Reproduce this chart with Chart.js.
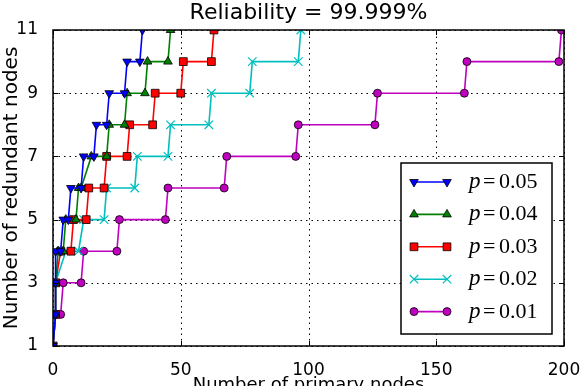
<!DOCTYPE html>
<html>
<head>
<meta charset="utf-8">
<script src="https://cdn.jsdelivr.net/npm/chart.js@4/dist/chart.umd.min.js"></script>
<style>
  html, body { margin: 0; padding: 0; background: #fff; overflow: hidden; }
  #wrap { position: relative; width: 581px; height: 410px; }
</style>
</head>
<body>
<div id="wrap"><canvas id="chart"></canvas></div>
<script>
// [primary nodes, redundant nodes] at each step start/end
const p05 = [[0,1],[1,2],[1,3],[1,4],[3,4],[4,5],[6,5],[7,6],[11,6],[12,7],[16,7],[17,8],[21,8],[22,9],[28,9],[29,10],[34,10],[35,11]];
const p04 = [[0,1],[1,2],[1,3],[2,4],[4,4],[5,5],[9,5],[10,6],[11,6],[15,7],[21,7],[22,8],[28,8],[29,9],[36,9],[37,10],[45,10],[46,11]];
const p03 = [[0,1],[1,2],[1,3],[3,4],[7,4],[8,5],[13,5],[14,6],[20,6],[21,7],[29,7],[30,8],[39,8],[40,9],[50,9],[51,10],[62,10],[63,11]];
const p02 = [[0,1],[1,2],[1,3],[5,4],[10,4],[12,5],[20,5],[21,6],[32,6],[33,7],[45,7],[46,8],[61,8],[62,9],[77,9],[78,10],[96,10],[97,11]];
const p01 = [[0,1],[1,2],[3,2],[4,3],[11,3],[12,4],[25,4],[26,5],[44,5],[45,6],[67,6],[68,7],[95,7],[96,8],[126,8],[127,9],[161,9],[162,10],[198,10],[199,11]];

const seriesLabels = ['0.05', '0.04', '0.03', '0.02', '0.01'];
const xTicks = [0, 50, 100, 150, 200];
const yTicks = [1, 3, 5, 7, 9, 11];
const chartTitle = 'Reliability = 99.999%';

const toPts = arr => arr.map(([x, y]) => ({ x, y }));

function makeSet(label, data, color, style, extra) {
  return Object.assign({
    label: label,
    data: toPts(data),
    showLine: true,
    borderColor: color,
    backgroundColor: color,
    borderWidth: 1.6,
    pointStyle: style,
    pointRadius: 4.5,
    pointBackgroundColor: color,
    pointBorderColor: '#000',
    pointBorderWidth: 0.8,
    clip: 0
  }, extra || {});
}

const datasets = [
  makeSet(seriesLabels[0], p05, '#0000ff', 'triangle', { pointRotation: 180, pointRadius: 5 }),
  makeSet(seriesLabels[1], p04, '#008000', 'triangle', { pointRadius: 5 }),
  makeSet(seriesLabels[2], p03, '#ff0000', 'rect', { pointRadius: 5.5 }),
  makeSet(seriesLabels[3], p02, '#00bfbf', 'crossRot', { pointRadius: 6, pointBorderColor: '#00bfbf', pointBorderWidth: 1.2 }),
  makeSet(seriesLabels[4], p01, '#bf00bf', 'circle', { pointRadius: 4 })
];

// dotted grid behind the data
const dottedGrid = {
  id: 'dottedGrid',
  beforeDatasetsDraw(chart) {
    const { ctx, chartArea: a, scales } = chart;
    ctx.save();
    ctx.strokeStyle = '#000';
    ctx.lineWidth = 1;
    ctx.setLineDash([1.5, 4]);
    xTicks.forEach(v => {
      const x = Math.round(scales.x.getPixelForValue(v)) + 0.5;
      ctx.beginPath(); ctx.moveTo(x, a.bottom); ctx.lineTo(x, a.top); ctx.stroke();
    });
    yTicks.forEach(v => {
      const y = Math.round(scales.y.getPixelForValue(v)) + 0.5;
      ctx.beginPath(); ctx.moveTo(a.left, y); ctx.lineTo(a.right, y); ctx.stroke();
    });
    ctx.restore();
  }
};

// ticks drawn inward on all four sides, plus the frame
const innerTicks = {
  id: 'innerTicks',
  afterDatasetsDraw(chart) {
    const { ctx, chartArea: a, scales } = chart;
    ctx.save();
    ctx.strokeStyle = '#000';
    ctx.lineWidth = 1;
    xTicks.forEach(v => {
      const x = Math.round(scales.x.getPixelForValue(v)) + 0.5;
      ctx.beginPath();
      ctx.moveTo(x, a.bottom); ctx.lineTo(x, a.bottom - 5);
      ctx.moveTo(x, a.top); ctx.lineTo(x, a.top + 5);
      ctx.stroke();
    });
    yTicks.forEach(v => {
      const y = Math.round(scales.y.getPixelForValue(v)) + 0.5;
      ctx.beginPath();
      ctx.moveTo(a.left, y); ctx.lineTo(a.left + 5, y);
      ctx.moveTo(a.right, y); ctx.lineTo(a.right - 5, y);
      ctx.stroke();
    });
    ctx.lineWidth = 1.5;
    ctx.strokeRect(a.left, a.top, a.right - a.left, a.bottom - a.top);
    ctx.restore();
  }
};

// title centred over the plot area, not the whole canvas
const axesTitle = {
  id: 'axesTitle',
  afterDraw(chart) {
    const { ctx, chartArea: a } = chart;
    ctx.save();
    ctx.fillStyle = '#000';
    ctx.font = '22px "DejaVu Sans"';
    ctx.textAlign = 'center';
    ctx.textBaseline = 'alphabetic';
    ctx.fillText(chartTitle, (a.left + a.right) / 2, 19);
    ctx.restore();
  }
};

// legend box in the lower right of the plot
const boxLegend = {
  id: 'boxLegend',
  afterDraw(chart) {
    const ctx = chart.ctx;
    const left = 401, top = 163, w = 151, h = 171;
    ctx.save();
    ctx.fillStyle = '#fff';
    ctx.fillRect(left, top, w, h);
    ctx.strokeStyle = '#000';
    ctx.lineWidth = 1.5;
    ctx.strokeRect(left, top, w, h);
    chart.data.datasets.forEach((ds, i) => {
      const y = top + 19 + i * 32.4;
      ctx.strokeStyle = ds.borderColor;
      ctx.lineWidth = ds.borderWidth;
      ctx.beginPath();
      ctx.moveTo(414, y); ctx.lineTo(447, y);
      ctx.stroke();
      const opts = {
        pointStyle: ds.pointStyle,
        rotation: ds.pointRotation || 0,
        radius: ds.pointRadius,
        borderWidth: ds.pointBorderWidth
      };
      [414, 447].forEach(px => {
        ctx.fillStyle = ds.pointBackgroundColor;
        ctx.strokeStyle = ds.pointBorderColor;
        ctx.lineWidth = ds.pointBorderWidth;
        Chart.helpers.drawPoint(ctx, opts, px, y);
      });
      ctx.fillStyle = '#000';
      ctx.textBaseline = 'alphabetic';
      ctx.font = 'italic 23px "Liberation Serif"';
      ctx.fillText('p', 469, y + 6);
      ctx.font = '22px "Liberation Serif"';
      ctx.fillText('=', 483, y + 6);
      ctx.fillText(ds.label, 499, y + 6);
    });
    ctx.restore();
  }
};

new Chart(document.getElementById('chart'), {
  type: 'scatter',
  data: { datasets },
  plugins: [dottedGrid, innerTicks, axesTitle, boxLegend],
  options: {
    responsive: true,
    maintainAspectRatio: false,
    animation: false,
    layout: { padding: { left: 0, right: 17, top: 30, bottom: 0 } },
    plugins: {
      legend: { display: false },
      tooltip: { enabled: false },
      title: { display: false }
    },
    scales: {
      x: {
        type: 'linear',
        min: 0,
        max: 200,
        afterBuildTicks: s => { s.ticks = xTicks.map(v => ({ value: v })); },
        afterFit: s => { s.height = 64; s.paddingLeft = 0; s.paddingRight = 0; },
        ticks: { color: '#000', font: { family: 'DejaVu Sans', size: 17 }, padding: 6 },
        grid: { display: false },
        border: { display: false },
        title: {
          display: true,
          text: 'Number of primary nodes',
          color: '#000',
          font: { family: 'DejaVu Sans', size: 18 },
          padding: { top: 0, bottom: 14 }
        }
      },
      y: {
        type: 'linear',
        min: 1,
        max: 11,
        afterBuildTicks: s => { s.ticks = yTicks.map(v => ({ value: v })); },
        afterFit: s => { s.width = 53; s.paddingTop = 0; s.paddingBottom = 0; },
        ticks: { color: '#000', font: { family: 'DejaVu Sans', size: 17 }, padding: 7 },
        grid: { display: false },
        border: { display: false },
        title: {
          display: true,
          text: 'Number of redundant nodes',
          color: '#000',
          font: { family: 'DejaVu Sans', size: 20 },
          padding: { top: 0, bottom: 0 }
        }
      }
    }
  }
});
</script>
</body>
</html>
